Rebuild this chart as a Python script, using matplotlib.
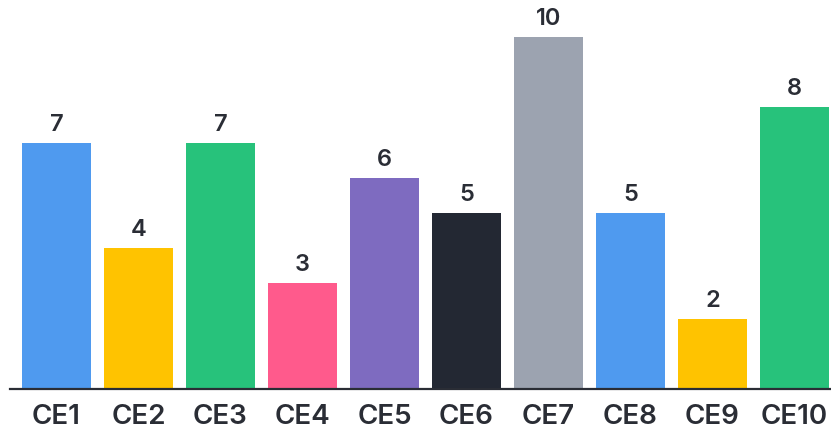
import matplotlib
matplotlib.use("Agg")
import matplotlib.pyplot as plt

labels = ["CE1", "CE2", "CE3", "CE4", "CE5", "CE6", "CE7", "CE8", "CE9", "CE10"]
counts = [7, 4, 7, 3, 6, 5, 10, 5, 2, 8]
colors = ["#4f9aef", "#ffc300", "#27c27b", "#ff5a8c", "#7e6bc0",
          "#232833", "#9ca3b0", "#4f9aef", "#ffc300", "#27c27b"]

text_color = "#2a2d35"
plt.rcParams["font.family"] = ["Inter", "DejaVu Sans"]

fig = plt.figure(figsize=(8.31, 4.32), dpi=100)
W, H = 831, 432
ax = fig.add_axes([10 / W, 43 / H, 821 / W, 389 / H])

x = list(range(len(labels)))
bars = ax.bar(x, counts, width=0.84, color=colors)

for b, v in zip(bars, counts):
    ax.annotate(str(v), (b.get_x() + b.get_width() / 2, v),
                xytext=(0, 5), textcoords="offset points",
                ha="center", va="bottom", fontsize=17, fontweight="semibold",
                color=text_color)

ax.set_xlim(-0.567, 9.445)
ax.set_ylim(0, 11.05)
ax.set_xticks(x)
ax.set_xticklabels(labels, fontsize=20, fontweight="semibold", color=text_color)
ax.tick_params(axis="x", length=0, pad=11)
ax.set_yticks([])
for s in ["top", "right", "left"]:
    ax.spines[s].set_visible(False)
ax.spines["bottom"].set_color("#2a2d35")
ax.spines["bottom"].set_linewidth(1.6)

fig.savefig("out.png", dpi=100)
